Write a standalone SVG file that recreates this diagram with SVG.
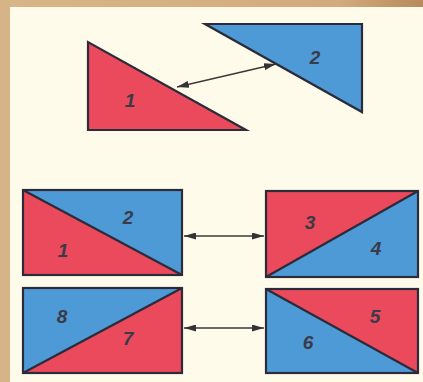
<svg xmlns="http://www.w3.org/2000/svg" width="423" height="382" viewBox="0 0 423 382">
<defs>
<linearGradient id="topbar" x1="0" y1="0" x2="1" y2="0">
<stop offset="0" stop-color="#d8b588"/>
<stop offset="0.8" stop-color="#d2ab7c"/>
<stop offset="1" stop-color="#b88a5c"/>
</linearGradient>
<marker id="ah" viewBox="0 0 12 7" refX="12" refY="3.5" markerWidth="12" markerHeight="7" orient="auto-start-reverse" markerUnits="userSpaceOnUse">
<path d="M0,0 L12,3.5 L0,7 Z" fill="#333333"/>
</marker>
</defs>
<style>
.red{fill:#ea4a5c}
.blue{fill:#4d9ad6}
.edge{fill:none;stroke:#2b2b3a;stroke-width:2.2;stroke-linejoin:miter}
.lbl{font-family:"Liberation Sans",Arial,sans-serif;font-weight:bold;font-style:italic;font-size:19px;fill:#3a3a48;text-anchor:middle}
.conn{stroke:#3a3a3a;stroke-width:1.6;fill:none}
</style>
<rect width="423" height="382" fill="#fffbea"/>
<rect x="0" y="0" width="423" height="7" fill="url(#topbar)"/>
<rect x="0" y="0" width="10" height="382" fill="#d7b487"/>

<g id="tri1">
<polygon class="red" points="88,42 88,130 246,130"/>
<polygon class="edge" points="88,42 88,130 246,130"/>
<text class="lbl" x="130" y="107">1</text>
</g>
<g id="tri2">
<polygon class="blue" points="205,24 362,24 362,112"/>
<polygon class="edge" points="205,24 362,24 362,112"/>
<text class="lbl" x="315" y="64">2</text>
</g>

<g id="rect12">
<polygon class="blue" points="23,190 182,190 182,275"/>
<polygon class="red" points="23,190 182,275 23,275"/>
<rect class="edge" x="23" y="190" width="159" height="85"/>
<line class="edge" x1="23" y1="190" x2="182" y2="275"/>
<text class="lbl" x="128" y="224">2</text>
<text class="lbl" x="63" y="257">1</text>
</g>
<g id="rect34">
<polygon class="red" points="266,191 418,191 266,277"/>
<polygon class="blue" points="418,191 418,277 266,277"/>
<rect class="edge" x="266" y="191" width="152" height="86"/>
<line class="edge" x1="266" y1="277" x2="418" y2="191"/>
<text class="lbl" x="310" y="229">3</text>
<text class="lbl" x="376" y="255">4</text>
</g>
<g id="rect78">
<polygon class="blue" points="23,288 182,288 23,373"/>
<polygon class="red" points="182,288 182,373 23,373"/>
<rect class="edge" x="23" y="288" width="159" height="85"/>
<line class="edge" x1="23" y1="373" x2="182" y2="288"/>
<text class="lbl" x="62" y="323">8</text>
<text class="lbl" x="128" y="345">7</text>
</g>
<g id="rect56">
<polygon class="red" points="266,289 418,289 418,373"/>
<polygon class="blue" points="266,289 418,373 266,373"/>
<rect class="edge" x="266" y="289" width="152" height="84"/>
<line class="edge" x1="266" y1="289" x2="418" y2="373"/>
<text class="lbl" x="375" y="323">5</text>
<text class="lbl" x="308" y="349">6</text>
</g>

<g id="connectors">
<line class="conn" x1="177" y1="87" x2="276" y2="64" marker-start="url(#ah)" marker-end="url(#ah)"/>
<line class="conn" x1="184" y1="236" x2="264" y2="236" marker-start="url(#ah)" marker-end="url(#ah)"/>
<line class="conn" x1="184" y1="328" x2="264" y2="328" marker-start="url(#ah)" marker-end="url(#ah)"/>
</g>
</svg>
